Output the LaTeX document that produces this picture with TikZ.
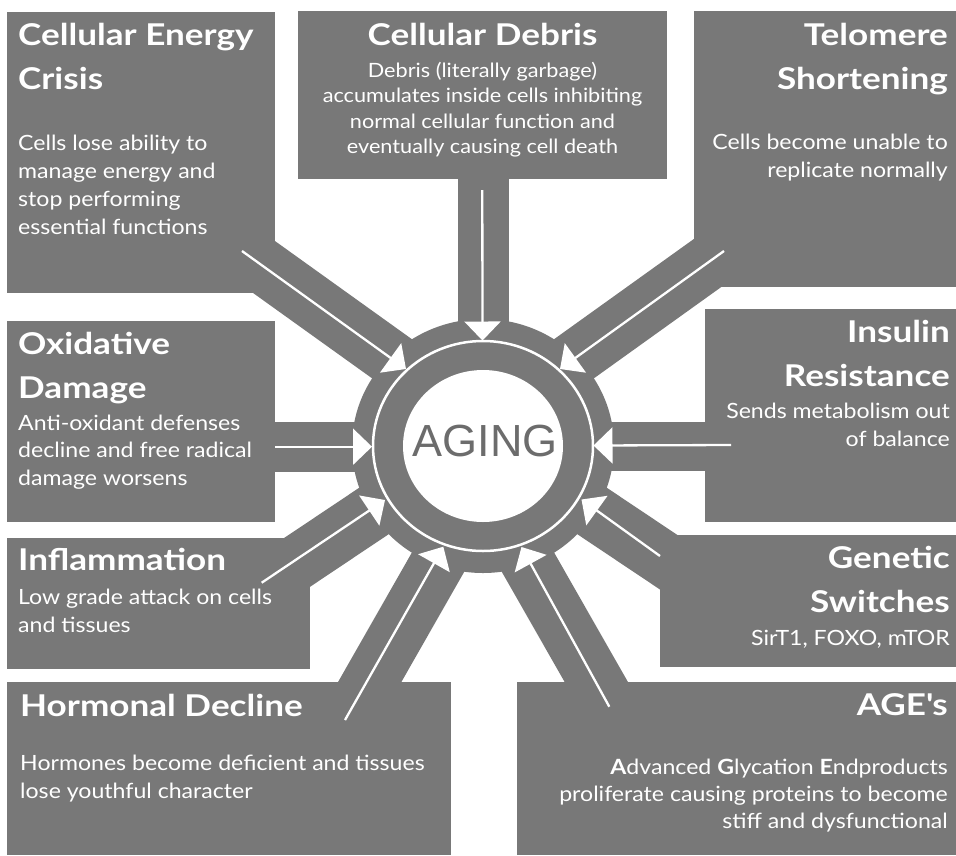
\documentclass[tikz,border=0pt]{standalone}
\usepackage{fontspec}
\setmainfont{Lato}[FakeStretch=1.10]
\newfontfamily\headfont{Lato}[FakeStretch=1.17]
\newfontfamily\agingfont{Liberation Sans}
\usetikzlibrary{arrows.meta,shapes.geometric}
\definecolor{panel}{RGB}{120,120,120}
\definecolor{agingtext}{RGB}{108,108,108}
\newcommand\tlines[2]{\begin{tabular}[t]{@{}#1@{}}#2\end{tabular}}
\begin{document}
\begin{tikzpicture}[x=1pt,y=-1pt,
  panelbox/.style={fill=panel, draw=none, inner sep=0pt, anchor=north west},
  band/.style={draw=panel, line width=#1},
  feed/.style={draw=white, line width=2.3pt,
    -{Triangle[length=19pt,width=36pt]}, fill=white},
  title/.style={text=white, inner sep=0pt,
    font=\headfont\fontsize{30}{44}\selectfont\bfseries},
  body/.style={text=white, inner sep=0pt,
    font=\fontsize{21}{#1}\selectfont},
  body/.default=28]

\useasboundingbox (0,0) rectangle (956,855);

% spokes joining the panels to the hub
\draw[band=51pt] (483.5,170) -- (483.5,446);
\draw[band=55pt] (218,234) -- (483,424);
\draw[band=55pt] (748,234) -- (483,424);
\draw[band=50pt] (250,447) -- (483,447);
\draw[band=49pt] (730,446) -- (483,446);
\draw[band=55pt] (263.3,585) -- (483,438);
\draw[band=55pt] (702.7,585) -- (483,438);
\draw[band=55pt] (360,699) -- (483.9,481.8);
\draw[band=55pt] (606,699) -- (482.1,481.8);

% panels
\node[panelbox, minimum width=268pt, minimum height=281pt] (energy) at (7,12) {};
\node[panelbox, minimum width=369pt, minimum height=168pt] (debris) at (298,11) {};
\node[panelbox, minimum width=262pt, minimum height=276pt] (telomere) at (694,11) {};
\node[panelbox, minimum width=268pt, minimum height=201pt] (oxid) at (7,321) {};
\node[panelbox, minimum width=303pt, minimum height=131pt] (inflam) at (7,538) {};
\node[panelbox, minimum width=444pt, minimum height=173pt] (hormone) at (7,682) {};
\node[panelbox, minimum width=439pt, minimum height=173pt] (ages) at (517,682) {};
\node[panelbox, minimum width=251pt, minimum height=213pt] (insulin) at (705,309) {};
\node[panelbox, minimum width=296pt, minimum height=132pt] (genetic) at (660,535) {};

% hub
\node[fill=panel, ellipse, minimum width=262pt, minimum height=254pt, inner sep=0pt] (hub) at (483,446) {};
\node[draw=white, line width=2.5pt, ellipse, minimum width=220pt, minimum height=210pt, inner sep=0pt] (ring) at (483,446) {};
\node[fill=white, ellipse, minimum width=160pt, minimum height=152pt, inner sep=0pt] (core) at (483,446) {};
\node[anchor=base, inner sep=0pt, text=agingtext, font=\agingfont\fontsize{45}{45}\selectfont] (aging) at (485,456.3) {AGING};

% arrow end points
\coordinate (sT) at (482.3,190);   \coordinate (tT) at (482.5,340.5);
\coordinate (sUL) at (242,251);    \coordinate (tUL) at (406,369);
\coordinate (sUR) at (724,251);    \coordinate (tUR) at (560,369);
\coordinate (sL) at (275,446.7);   \coordinate (tL) at (372,446.7);
\coordinate (sR) at (731,445);     \coordinate (tR) at (593.5,445.5);
\coordinate (sLL) at (261.7,582.7); \coordinate (tLL) at (385,500);
\coordinate (sLR) at (660,556);    \coordinate (tLR) at (581.5,499.5);
\coordinate (sBL) at (345,720);    \coordinate (tBL) at (443.3,546.7);
\coordinate (sBR) at (609.3,706.7); \coordinate (tBR) at (521.5,547);

\foreach \k in {T,UL,UR,L,R,LL,LR,BL,BR}
  \draw[feed] (s\k) -- (t\k);

% panel texts
\node[title, anchor=base west] (energyT) at (18,45.7) {\tlines{l}{Cellular Energy\\Crisis}};
\node[body, anchor=base west] (energyB) at (18,150) {\tlines{l}{Cells lose ability to\\manage energy and\\stop performing\\essential functions}};

\node[title, anchor=base] (debrisT) at (482.5,45.7) {Cellular Debris};
\node[text=white, inner sep=0pt, font=\fontsize{19.7}{25.5}\selectfont, anchor=base] (debrisB) at (482.5,77) {\tlines{c}{Debris (literally garbage)\\accumulates inside cells inhibiting\\normal cellular function and\\eventually causing cell death}};

\node[title, anchor=base east] (telomereT) at (948,45.7) {\tlines{r}{Telomere\\Shortening}};
\node[body, anchor=base east] (telomereB) at (948,149.5) {\tlines{r}{Cells become unable to\\replicate normally}};

\node[title, anchor=base west] (oxidT) at (18,354) {\tlines{l}{Oxidative\\Damage}};
\node[body=27.5, anchor=base west] (oxidB) at (18,430) {\tlines{l}{Anti-oxidant defenses\\decline and free radical\\damage worsens}};

\node[title, anchor=base west] (inflamT) at (18,570.7) {Inflammation};
\node[body, anchor=base west] (inflamB) at (18,604) {\tlines{l}{Low grade attack on cells\\and tissues}};

\node[title, anchor=base west] (hormoneT) at (20,716.7) {Hormonal Decline};
\node[body, anchor=base west] (hormoneB) at (20,770) {\tlines{l}{Hormones become deficient and tissues\\lose youthful character}};

\node[title, anchor=base east] (insulinT) at (950,342.7) {\tlines{r}{Insulin\\Resistance}};
\node[body, anchor=base east] (insulinB) at (950,418.3) {\tlines{r}{Sends metabolism out\\of balance}};

\node[title, anchor=base east] (geneticT) at (950,568.3) {\tlines{r}{Genetic\\Switches}};
\node[body, anchor=base east] (geneticB) at (950,645) {SirT1, FOXO, mTOR};

\node[title, anchor=base east] (agesT) at (948,715) {AGE\textquotesingle s};
\node[body=27.2, anchor=base east] (agesB) at (948,774) {\tlines{r}{\textbf{A}dvanced \textbf{G}lycation \textbf{E}ndproducts\\proliferate causing proteins to become\\stiff and dysfunctional}};

\end{tikzpicture}
\end{document}
